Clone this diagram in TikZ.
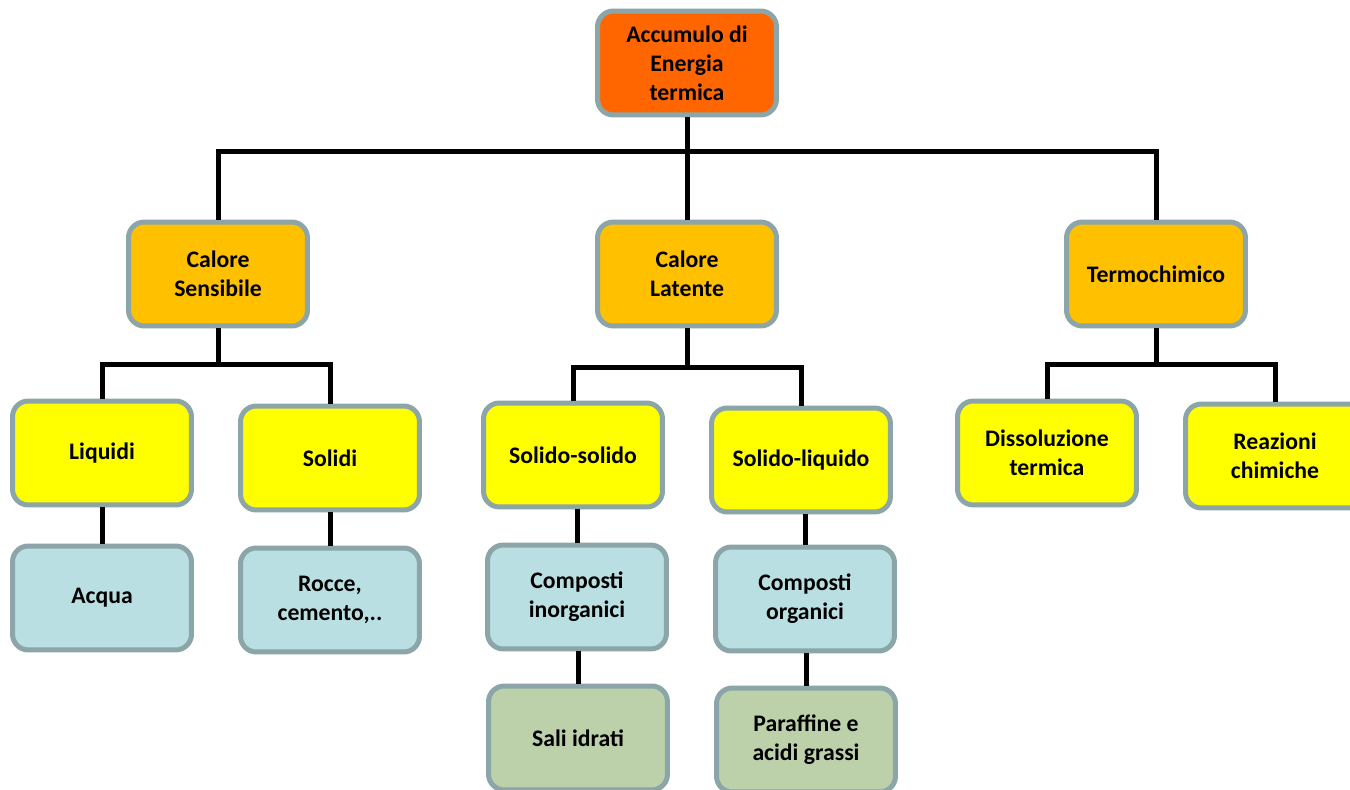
\documentclass[tikz,border=0pt]{standalone}
\usepackage{fontspec}
\setmainfont{Carlito}
\usetikzlibrary{positioning,calc}

\begin{document}
\begin{tikzpicture}[x=0.02cm, y=-0.02cm,
        every node/.style={font=\bfseries\fontsize{13.5}{16.5}\selectfont, align=center},
        box/.style={draw=boxedge, line width=0.1cm, rounded corners=9pt, minimum width=3.58cm, minimum height=2.08cm, inner sep=2pt},
        link/.style={line width=0.1cm, black}]
        \definecolor{boxedge}{RGB}{139,165,168}
        \definecolor{rootorange}{RGB}{255,102,0}
        \definecolor{kindgold}{RGB}{255,192,0}
        \definecolor{typeyellow}{RGB}{255,255,0}
        \definecolor{matblue}{RGB}{185,223,226}
        \definecolor{subgreen}{RGB}{188,208,170}

        \useasboundingbox (0,0) rectangle (1350,790);

        % Root
        \node[box, fill=rootorange] (root) at (687,63) {Accumulo di\\Energia\\termica};

        % Storage kinds
        \node[box, fill=kindgold] (sens) at (218,274) {Calore\\Sensibile};
        \node[box, fill=kindgold] (lat) at (687,274) {Calore\\Latente};
        \node[box, fill=kindgold] (term) at (1156,274) {Termochimico};

        % Sub types
        \node[box, fill=typeyellow] (liq) at (102,453) {Liquidi};
        \node[box, fill=typeyellow] (sol) at (330,458) {Solidi};
        \node[box, fill=typeyellow] (ss) at (573,455) {Solido-solido};
        \node[box, fill=typeyellow] (sl) at (801,460) {Solido-liquido};
        \node[box, fill=typeyellow] (diss) at (1047,453) {Dissoluzione\\termica};
        \node[box, fill=typeyellow] (reaz) at (1275,456) {Reazioni\\chimiche};

        % Materials
        \node[box, fill=matblue] (acq) at (102,598) {Acqua};
        \node[box, fill=matblue] (rocce) at (330,600) {Rocce,\\cemento,..};
        \node[box, fill=matblue] (inorg) at (577,597) {Composti\\inorganici};
        \node[box, fill=matblue] (org) at (805,599) {Composti\\organici};
        \node[box, fill=subgreen] (sali) at (578,738) {Sali idrati};
        \node[box, fill=subgreen] (paraf) at (806,740) {Paraffine e\\acidi grassi};

        % Bus points
        \coordinate (rootBus) at (687,152);
        \coordinate (sensBus) at (218,365);
        \coordinate (latBus) at (687,368);
        \coordinate (termBus) at (1156,365);

        % Connectors
        \draw[link] (root.south) -- (rootBus);
        \draw[link] (sens.north) |- (rootBus) -| (term.north);
        \draw[link] (rootBus) -- (lat.north);

        \draw[link] (sens.south) -- (sensBus);
        \draw[link] (liq.north) |- (sensBus) -| (sol.north);
        \draw[link] (lat.south) -- (latBus);
        \draw[link] (ss.north) |- (latBus) -| (sl.north);
        \draw[link] (term.south) -- (termBus);
        \draw[link] (diss.north) |- (termBus) -| (reaz.north);

        \draw[link] (liq.south) -- (acq.north);
        \draw[link] (sol.south) -- (rocce.north);
        \draw[link] (inorg.north |- ss.south) -- (inorg.north);
        \draw[link] (org.north |- sl.south) -- (org.north);
        \draw[link] (inorg.south -| sali.north) -- (sali.north);
        \draw[link] (org.south -| paraf.north) -- (paraf.north);
\end{tikzpicture}
\end{document}
